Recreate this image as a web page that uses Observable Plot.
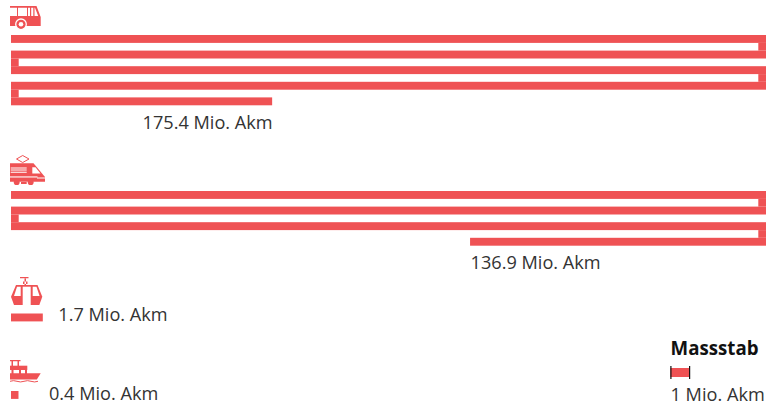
<!DOCTYPE html>
<html><head><meta charset="utf-8">
<script src="https://cdn.jsdelivr.net/npm/d3@7"></script>
<script src="https://cdn.jsdelivr.net/npm/@observablehq/plot@0.6"></script>
<style>html,body{margin:0;padding:0;background:#fff}svg{display:block}</style>
</head><body><div id="c"></div>
<script>
const modes = ["Bus", "Bahn", "Seilbahn", "Schiff"];
const values = [175.4, 136.9, 1.7, 0.4];
const unitLabel = " Mio. Akm";
const scaleTitle = "Massstab";
const scaleValue = 1;

const RED = "#ef5254", W = 766, H = 404;
const rowMio = 40.36;            // one row of the serpentine, in Mio. Akm
const step = 15.6, thick = 7.9;  // row pitch and bar thickness
const pxPerMio = 755 / rowMio;
const tops = [35, 191, 313.5, 391];
const scaleX = 35.25;

const rects = [], connectors = [];
values.forEach((v, i) => {
  let left = v, row = 0;
  while (left > 0) {
    const len = Math.min(left, rowMio);
    const ltr = row % 2 === 0;
    rects.push({
      x1: ltr ? 0 : rowMio - len, x2: ltr ? len : rowMio,
      y1: tops[i] + row * step, y2: tops[i] + row * step + thick
    });
    left -= len;
    if (left > 0) {
      const w = 7.7 / pxPerMio;
      connectors.push({
        x1: ltr ? rowMio - w : 0, x2: ltr ? rowMio : w,
        y1: tops[i] + row * step + thick, y2: tops[i] + (row + 1) * step
      });
    }
    row++;
  }
});

const endLabels = [
  {x: values[0] % rowMio, y: 128.3, t: values[0] + unitLabel}
];
const startLabels = [
  {x: rowMio - (values[1] - 3 * rowMio), y: 268.3, t: values[1] + unitLabel},
  {x: values[2] + 0.8, y: 320.3, t: values[2] + unitLabel},
  {x: values[3] + 1.6, y: 399.4, t: values[3] + unitLabel},
  {x: scaleX - 0.02, y: 400, t: scaleValue + unitLabel}
];

const icons = () => {
  const g = d3.create("svg:g").attr("fill", RED);
  const path = (d, extra = {}) => { const p = g.append("path").attr("d", d); for (const k in extra) p.attr(k, extra[k]); return p; };
  // Bus
  path("M10 6H36.5L40.7 17V26H10V16H38.2L35 7.7H10Z");
  for (const [a, b] of [[17, 18], [27, 28], [30, 31.2], [33.3, 34.5]]) path(`M${a} 7V16.5H${b}V7Z`);
  g.append("circle").attr("cx", 21).attr("cy", 24.3).attr("r", 5.3).attr("stroke", "#fff").attr("stroke-width", 1.3);
  g.append("circle").attr("cx", 21).attr("cy", 24.3).attr("r", 2.3).attr("fill", "#fff");
  // Train
  path("M16.5 159L22.7 155.5L29 159L22.7 162.5Z", {fill: "none", stroke: RED, "stroke-width": 1});
  path("M10 163.3H33.5L45 177V181.7H10Z");
  path("M10.7 167.4H26.7V168.4H10.7ZM10.7 169.6H26.7V170.6H10.7ZM10.7 171.8H26.7V172.8H10.7Z", {fill: "#fff"});
  path("M32.3 167.2H35.5L40.5 173.5H32.3Z", {fill: "#fff"});
  path("M10 176.4H37.5V177.5H10Z", {fill: "#fff"});
  path("M37 177.5H45V178.5H37Z", {fill: "#fff"});
  g.append("circle").attr("cx", 16.7).attr("cy", 182.2).attr("r", 2.9);
  g.append("circle").attr("cx", 30.7).attr("cy", 182.2).attr("r", 2.9);
  path("M21 182H26.7V184H21Z");
  // Gondola
  path("M20 277H28.5V278.2H20ZM24.5 278V285H26V278ZM23 281.5H27.5V284H23Z");
  path("M16 285H37.5L42.3 296.7L39.3 305H14L11 296.7Z");
  path("M22.7 286.7H30.7V305H22.7Z", {fill: "#fff"});
  path("M17 286.7H20.7V296H14Z", {fill: "#fff"});
  path("M32.7 286.7H36.5L39.6 296H32.7Z", {fill: "#fff"});
  // Boat
  path("M10 360H20.5V361.3H10ZM11.5 361H13V366H11.5ZM17.5 361H19V366H17.5Z");
  path("M10 365.7H27.3V370H10Z");
  path("M11.5 370H13.5V374H11.5ZM19 370H21V374H19ZM25 370H27V374H25Z");
  path("M10 373.3H40.7L36.8 379.5H10Z");
  path("M10 381.3Q13.5 380 17 381.3T24 381.3T31 381.3T38 381.3", {fill: "none", stroke: RED, "stroke-width": 1});
  return g.node();
};

const textOpts = {x: "x", y: "y", text: "t", lineAnchor: "bottom", fontFamily: "Open Sans", fontSize: 18.15, fill: "#333"};
const plot = Plot.plot({
  width: W, height: H, margin: 0,
  style: {background: "#fff"},
  x: {domain: [0, rowMio], range: [11, 766], axis: null},
  y: {type: "linear", domain: [0, H], range: [0, H], axis: null},
  marks: [
    Plot.rect(rects, {x1: "x1", x2: "x2", y1: "y1", y2: "y2", fill: RED}),
    Plot.rect(connectors, {x1: "x1", x2: "x2", y1: "y1", y2: "y2", fill: RED}),
    Plot.rect([{x1: scaleX, x2: scaleX + scaleValue}], {x1: "x1", x2: "x2", y1: () => 368, y2: () => 377, fill: RED}),
    Plot.ruleX([scaleX, scaleX + scaleValue], {y1: 366, y2: 379, stroke: "#111", strokeWidth: 1.2}),
    Plot.text(endLabels, {...textOpts, textAnchor: "end"}),
    Plot.text(startLabels, {...textOpts, textAnchor: "start"}),
    Plot.text([scaleTitle], {x: () => scaleX - 0.02, y: () => 354, textAnchor: "start", lineAnchor: "bottom", fontFamily: "Open Sans", fontWeight: 700, fontSize: 18.7, fill: "#111"}),
    icons
  ]
});
document.getElementById("c").append(plot);
</script></body></html>
